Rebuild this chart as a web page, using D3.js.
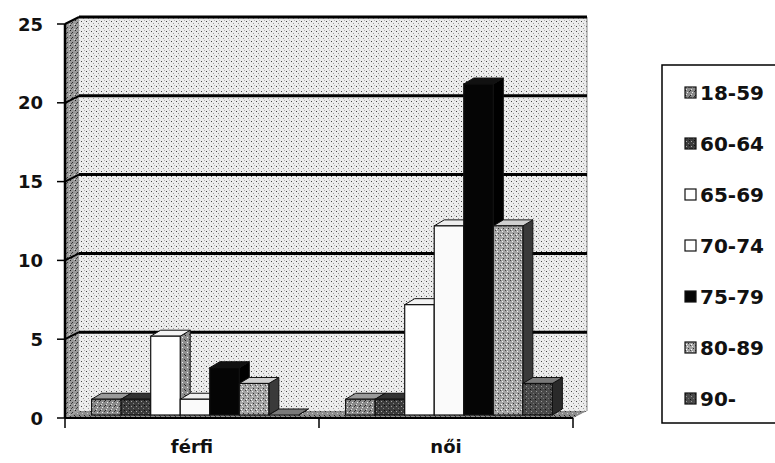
<!DOCTYPE html>
<html>
<head>
<meta charset="utf-8">
<script src="https://cdn.jsdelivr.net/npm/d3@7"></script>
<style>
  body { margin: 0; background: #fff; }
  text { font-family: "DejaVu Sans", sans-serif; font-weight: bold; fill: #111; }
</style>
</head>
<body>
<svg id="chart"></svg>
<script>
// data
const categories = ["férfi", "női"];
const series = ["18-59", "60-64", "65-69", "70-74", "75-79", "80-89", "90-"];
const valuesFerfi = [1, 1, 5, 1, 3, 2, 0];
const valuesNoi = [1, 1, 7, 12, 21, 12, 2];
const yTicks = [0, 5, 10, 15, 20, 25];

const width = 775;
const height = 463;

const svg = d3.select("#chart").attr("width", width).attr("height", height);
const defs = svg.append("defs");

// halftone-ish patterns to mimic the scan
function dotPattern(id, base, dots) {
  const p = defs.append("pattern")
    .attr("id", id)
    .attr("patternUnits", "userSpaceOnUse")
    .attr("width", 5)
    .attr("height", 5);
  p.append("rect").attr("width", 5).attr("height", 5).attr("fill", base);
  dots.forEach((d) => {
    p.append("rect").attr("x", d[0]).attr("y", d[1]).attr("width", 1).attr("height", 1).attr("fill", d[2]);
  });
}
dotPattern("wall", "#ececec", [[1, 1, "#444"], [3, 3, "#999"], [4, 0, "#bbb"]]);
dotPattern("sidewall", "#9a9a9a", [[0, 0, "#222"], [2, 2, "#333"], [4, 4, "#ddd"], [1, 3, "#444"]]);
dotPattern("floor", "#8c8c8c", [[0, 1, "#333"], [2, 3, "#ccc"], [4, 0, "#222"]]);
dotPattern("s1859", "#8a8a8a", [[0, 0, "#222"], [2, 2, "#eee"], [4, 1, "#333"], [1, 4, "#ddd"]]);
dotPattern("s6064", "#3c3c3c", [[1, 1, "#aaa"], [3, 3, "#888"], [4, 0, "#111"]]);
dotPattern("s8089", "#a4a4a4", [[0, 0, "#444"], [2, 1, "#eee"], [3, 3, "#333"], [1, 4, "#fff"]]);
dotPattern("s90", "#4a4a4a", [[1, 1, "#999"], [3, 3, "#777"], [0, 4, "#111"]]);
dotPattern("gside", "#8f8f8f", [[0, 0, "#222"], [2, 2, "#eee"], [4, 4, "#333"]]);

const styles = {
  "18-59": { front: "url(#s1859)", top: "#9a9a9a", side: "#555" },
  "60-64": { front: "url(#s6064)", top: "#333", side: "#222" },
  "65-69": { front: "#fff", top: "#f4f4f4", side: "url(#gside)" },
  "70-74": { front: "#fafafa", top: "#eee", side: "url(#gside)" },
  "75-79": { front: "#050505", top: "#111", side: "#000" },
  "80-89": { front: "url(#s8089)", top: "#d0d0d0", side: "#3a3a3a" },
  "90-": { front: "url(#s90)", top: "#7a7a7a", side: "#2a2a2a" },
};

const x0 = d3.scaleBand().domain(categories).range([65, 573]);
const xs = d3.scaleBand().domain(series).range([0, x0.bandwidth()])
  .paddingInner(0).paddingOuter(0.8);
const y = d3.scaleLinear().domain([0, 25]).range([418, 24]);

const wall = { dx: 14, dy: -7 };
const left = x0.range()[0];
const right = x0.range()[1];

// side wall, floor, back wall
svg.append("polygon")
  .attr("points", [[left, y(25)], [left + wall.dx, y(25) + wall.dy], [left + wall.dx, y(0) + wall.dy], [left, y(0)]].join(" "))
  .attr("fill", "url(#sidewall)");
svg.append("rect")
  .attr("x", left + wall.dx)
  .attr("y", y(25) + wall.dy)
  .attr("width", right - left)
  .attr("height", y(0) - y(25))
  .attr("fill", "url(#wall)");
svg.append("polygon")
  .attr("points", [[left, y(0)], [right, y(0)], [right + wall.dx, y(0) + wall.dy], [left + wall.dx, y(0) + wall.dy]].join(" "))
  .attr("fill", "url(#floor)");
svg.append("line")
  .attr("x1", right + wall.dx).attr("x2", right + wall.dx)
  .attr("y1", y(25) + wall.dy).attr("y2", y(0) + wall.dy)
  .attr("stroke", "#888").attr("stroke-width", 1);

// gridlines on the back wall and side wall
yTicks.filter((t) => t > 0).forEach((t) => {
  svg.append("line")
    .attr("x1", left + wall.dx).attr("x2", right + wall.dx)
    .attr("y1", y(t) + wall.dy).attr("y2", y(t) + wall.dy)
    .attr("stroke", "#000").attr("stroke-width", 3);
  svg.append("line")
    .attr("x1", left).attr("x2", left + wall.dx)
    .attr("y1", y(t)).attr("y2", y(t) + wall.dy)
    .attr("stroke", "#000").attr("stroke-width", 2);
});

// bars
const off = { dx: 3, dy: -3 };
const depth = { dx: 10, dy: -6 };
const groups = [valuesFerfi, valuesNoi];

groups.forEach((vals, gi) => {
  const g = svg.append("g");
  series.forEach((s, i) => {
    const v = vals[i];
    const st = styles[s];
    const xl = x0(categories[gi]) + xs(s) + off.dx;
    const w = xs.bandwidth();
    const yt = y(v) + off.dy;
    const yb = y(0) + off.dy;
    g.append("polygon")
      .attr("points", [[xl + w, yt], [xl + w + depth.dx, yt + depth.dy], [xl + w + depth.dx, yb + depth.dy], [xl + w, yb]].join(" "))
      .attr("fill", st.side).attr("stroke", "#111").attr("stroke-width", 1);
    g.append("polygon")
      .attr("points", [[xl, yt], [xl + w, yt], [xl + w + depth.dx, yt + depth.dy], [xl + depth.dx, yt + depth.dy]].join(" "))
      .attr("fill", st.top).attr("stroke", "#111").attr("stroke-width", 1);
    if (v > 0) {
      g.append("rect")
        .attr("x", xl).attr("y", yt)
        .attr("width", w).attr("height", yb - yt)
        .attr("fill", st.front).attr("stroke", "#111").attr("stroke-width", 1.2);
    }
  });
});

// axes
const axis = svg.append("g");
axis.append("line")
  .attr("x1", left).attr("x2", left).attr("y1", y(25)).attr("y2", y(0))
  .attr("stroke", "#000").attr("stroke-width", 2.5);
axis.append("line")
  .attr("x1", left).attr("x2", right).attr("y1", y(0)).attr("y2", y(0))
  .attr("stroke", "#000").attr("stroke-width", 2);
yTicks.forEach((t) => {
  axis.append("line")
    .attr("x1", left - 8).attr("x2", left).attr("y1", y(t)).attr("y2", y(t))
    .attr("stroke", "#000").attr("stroke-width", 1.5);
  axis.append("text")
    .attr("x", 43).attr("y", y(t))
    .attr("text-anchor", "end")
    .attr("dominant-baseline", "central")
    .style("font-size", "18px")
    .text(t);
});
[left, x0(categories[1]), right].forEach((xv) => {
  axis.append("line")
    .attr("x1", xv).attr("x2", xv).attr("y1", y(0)).attr("y2", y(0) + 10)
    .attr("stroke", "#000").attr("stroke-width", 1.5);
});
categories.forEach((c) => {
  axis.append("text")
    .attr("x", x0(c) + x0.bandwidth() / 2)
    .attr("y", 453)
    .attr("text-anchor", "middle")
    .style("font-size", "18px")
    .text(c);
});

// legend
const legend = svg.append("g");
legend.append("rect")
  .attr("x", 662).attr("y", 65).attr("width", 130).attr("height", 358)
  .attr("fill", "#fff").attr("stroke", "#000").attr("stroke-width", 1.5);
const legendY = d3.scalePoint().domain(series).range([93, 399]);
series.forEach((s) => {
  const st = styles[s];
  legend.append("rect")
    .attr("x", 685).attr("y", legendY(s) - 6)
    .attr("width", 11).attr("height", 11)
    .attr("fill", st.front === "#fafafa" ? "#fff" : st.front)
    .attr("stroke", "#111").attr("stroke-width", 1.2);
  legend.append("text")
    .attr("x", 700).attr("y", legendY(s))
    .attr("dominant-baseline", "central")
    .style("font-size", "20px")
    .text(s);
});
</script>
</body>
</html>
